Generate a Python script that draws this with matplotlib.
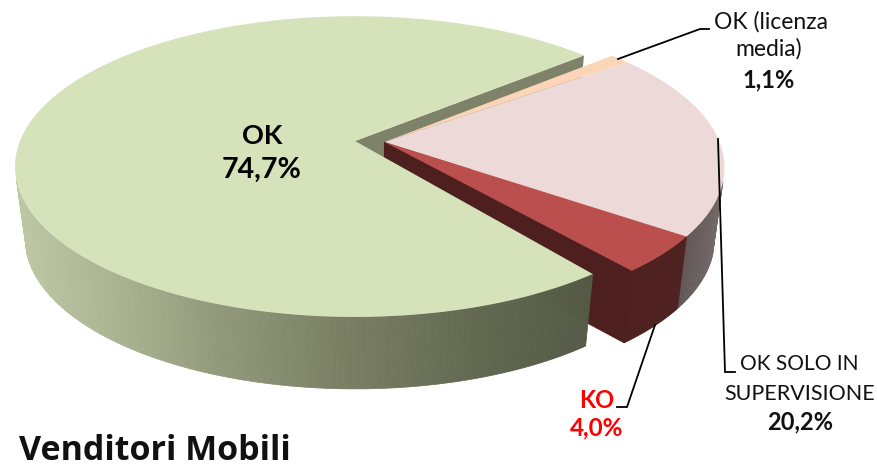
import numpy as np
import matplotlib
matplotlib.use("Agg")
import matplotlib.pyplot as plt

# --- data ---
categories = ["OK (licenza media)", "OK SOLO IN SUPERVISIONE", "KO", "OK"]
values = [1.1, 20.2, 4.0, 74.7]
value_labels = ["1,1%", "20,2%", "4,0%", "74,7%"]
title = "Venditori Mobili"

# --- style / geometry ---
FONT = ["Lato", "DejaVu Sans"]
TOP = ["#fbd5b5", "#eed9d9", "#bb4f4d", "#d6e2b9"]
KO_WALL = "#4d1f1f"
CUT_GREY = "#7d8268"
START = -41.0
RX, RY, K = 335.0, 146.0, 0.17
DEPTH, TAPER = 72.0, 0.97
MAIN_C = (384.5, 142.0)
OK_C = (355.0, 141.0)
OK_TRIM = 2.0


def rim(theta, c):
    t = np.radians(theta)
    u, v = np.cos(t), np.sin(t)
    s = 1 / (1 - K * v)
    return c[0] + RX * u * s, c[1] + RY * v * s


def lower(x, y, c):
    return c[0] + TAPER * (np.asarray(x) - c[0]), np.asarray(y) + DEPTH


def lerp(stops, x):
    xs = [p[0] for p in stops]
    return tuple(np.interp(x, xs, [p[1][i] for p in stops]) / 255 for i in range(3))


def wall(ax, a0, a1, c, stops):
    th = np.linspace(a0, a1, max(int(abs(a1 - a0) * 2), 2) + 1)
    x, y = rim(th, c)
    xb, yb = lower(x, y, c)
    for i in range(len(th) - 1):
        col = lerp(stops, (x[i] + x[i + 1]) / 2)
        ax.fill([x[i], x[i + 1], xb[i + 1], xb[i]], [y[i], y[i + 1], yb[i + 1], yb[i]],
                color=col, lw=0.5, ec=col, zorder=2)


def top(ax, a0, a1, c, col, z):
    th = np.linspace(a0, a1, 300)
    x, y = rim(th, c)
    ax.fill(np.r_[c[0], x], np.r_[c[1], y], color=col, lw=0, zorder=z)


edges = START + np.r_[0, np.cumsum(values)] * 3.6

fig = plt.figure(figsize=(8.77, 4.7), dpi=100)
ax = fig.add_axes([0, 0, 1, 1])
ax.set_xlim(0, 877)
ax.set_ylim(470, 0)
ax.axis("off")

# upper cut face of the pulled-out OK slice (painted first, main pie overlaps it)
ok_end = edges[4] + 0.4
xe, ye = rim(ok_end, OK_C)
xb, yb = lower(xe, ye, OK_C)
ax.fill([OK_C[0], xe, xb, OK_C[0]], [OK_C[1], ye, yb, OK_C[1] + DEPTH], color=CUT_GREY, lw=0, zorder=1)

# walls of the main part
wall(ax, 15, edges[2], MAIN_C, [(680, (92, 82, 80)), (725, (118, 108, 108))])
wall(ax, edges[2], edges[3], MAIN_C, [(0, (77, 31, 31)), (877, (77, 31, 31))])
xe, ye = rim(edges[3], MAIN_C)
xb, yb = lower(xe, ye, MAIN_C)
ax.fill([MAIN_C[0], xe, xb, MAIN_C[0]], [MAIN_C[1], ye, yb, MAIN_C[1] + DEPTH],
        color=KO_WALL, lw=0.8, ec=KO_WALL, zorder=2)

# top faces of the main part
for i in range(3):
    top(ax, edges[i], edges[i + 1], MAIN_C, TOP[i], 3)

# OK slice: front wall and top
ok_start = edges[3] + OK_TRIM
wall(ax, ok_start, 165, OK_C, [(13, (190, 200, 165)), (120, (168, 178, 143)), (220, (145, 152, 122)),
                               (340, (122, 127, 100)), (480, (98, 103, 80)), (597, (84, 89, 70))])
top(ax, ok_start, ok_end, OK_C, TOP[3], 4)

# leader lines
ax.plot([618, 700, 709], [59, 29, 29], color="k", lw=1.3, zorder=5, solid_joinstyle="miter")
ax.plot([718, 725, 735], [139, 372, 372], color="k", lw=1.3, zorder=5, solid_joinstyle="miter")
ax.plot([655, 627, 617], [325, 407, 407], color="k", lw=1.3, zorder=5, solid_joinstyle="miter")


def label(x, y, s, bold=False, color="#111111", size=15.5, ha="center"):
    ax.text(x, y, s, fontsize=size, family=FONT, fontweight="bold" if bold else "normal",
            color=color, ha=ha, va="center", zorder=6)


label(262, 136, categories[3], True, "#000000", 19.5)
label(262, 170, value_labels[3], True, "#000000", 20.5)
label(771, 22, "OK (licenza", size=16.5)
label(769, 49, "media)", size=16.5)
label(769, 80, value_labels[0], True, size=17)
label(799, 364, "OK SOLO IN", size=15)
label(800, 394, "SUPERVISIONE")
label(800, 422, value_labels[1], True, size=17)
label(597, 400, categories[2], True, "#ff0000", 17)
label(597, 428, value_labels[2], True, "#ff0000", 17.5)
ax.text(19, 460, title, fontsize=24.5, family=["Open Sans", "DejaVu Sans"], fontweight="bold",
        color="#111111", ha="left", va="baseline", zorder=6)

fig.savefig("out.png", dpi=100)
